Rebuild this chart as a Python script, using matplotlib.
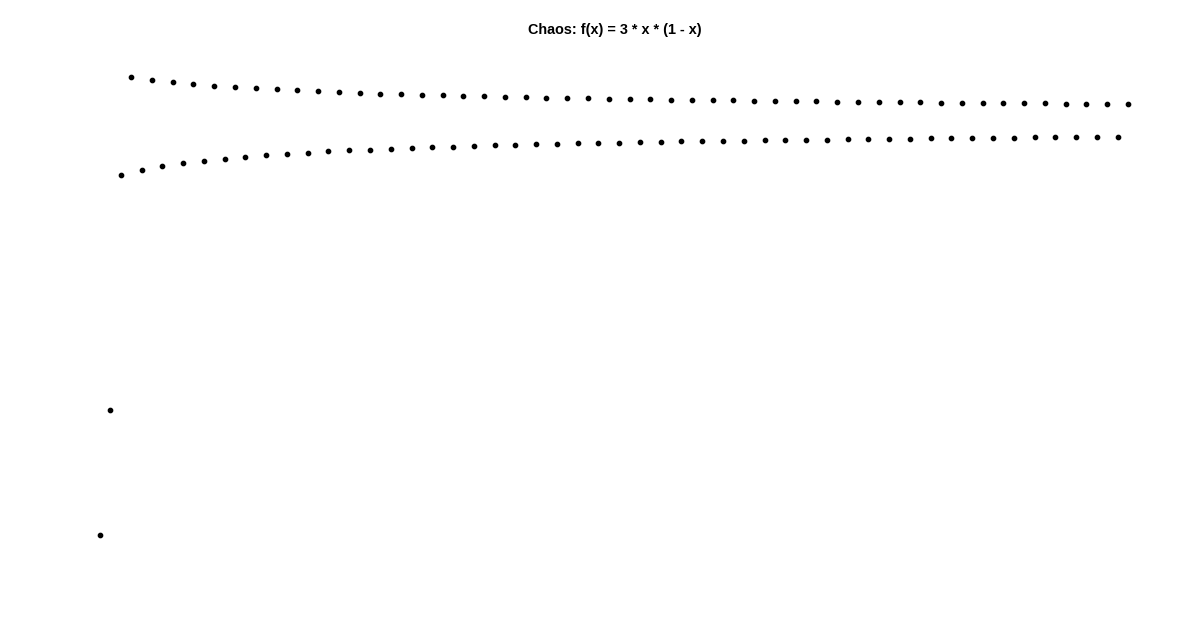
import numpy as np
from matplotlib import pyplot as plt

plt.rcParams['font.family'] = ['Liberation Sans', 'DejaVu Sans']

# iterates of the logistic map (start x0 = 0.1)
values = [0.1, 0.27, 0.5913, 0.7250, 0.5981, 0.7211, 0.6033, 0.7180, 0.6075, 0.7153,
          0.6109, 0.7131, 0.6137, 0.7112, 0.6162, 0.7095, 0.6183, 0.7080, 0.6202, 0.7066,
          0.6219, 0.7054, 0.6234, 0.7043, 0.6248, 0.7033, 0.6260, 0.7024, 0.6271, 0.7015,
          0.6282, 0.7007, 0.6292, 0.6999, 0.6301, 0.6993, 0.6309, 0.6986, 0.6317, 0.6980,
          0.6324, 0.6974, 0.6331, 0.6969, 0.6337, 0.6963, 0.6343, 0.6959, 0.6349, 0.6954,
          0.6355, 0.6949, 0.6360, 0.6945, 0.6365, 0.6941, 0.6370, 0.6937, 0.6374, 0.6934,
          0.6378, 0.6930, 0.6383, 0.6927, 0.6386, 0.6923, 0.6390, 0.6920, 0.6394, 0.6917,
          0.6397, 0.6914, 0.6401, 0.6911, 0.6404, 0.6909, 0.6407, 0.6906, 0.6410, 0.6903,
          0.6413, 0.6901, 0.6416, 0.6899, 0.6419, 0.6896, 0.6421, 0.6894, 0.6424, 0.6892,
          0.6426, 0.6890, 0.6429, 0.6888, 0.6431, 0.6886, 0.6433, 0.6884, 0.6436, 0.6882]
steps = np.arange(len(values))

fig = plt.figure(figsize=(12, 6.27), dpi=100)
ax = fig.add_axes([0.0405, 0.1102, 0.9423, 0.8035])
ax.plot(steps, values, 'o', color='black', markersize=3.1)
ax.set_xlim(-4.95, 103.95)
ax.set_ylim(0.06875, 0.75625)
ax.axis('off')

fig.text(615 / 1200, 1 - 30 / 627, 'Chaos: f(x) = 3 * x * (1 - x)',
         ha='center', va='center', fontsize=10.4, fontweight='bold')

plt.savefig('out.png', dpi=100)
